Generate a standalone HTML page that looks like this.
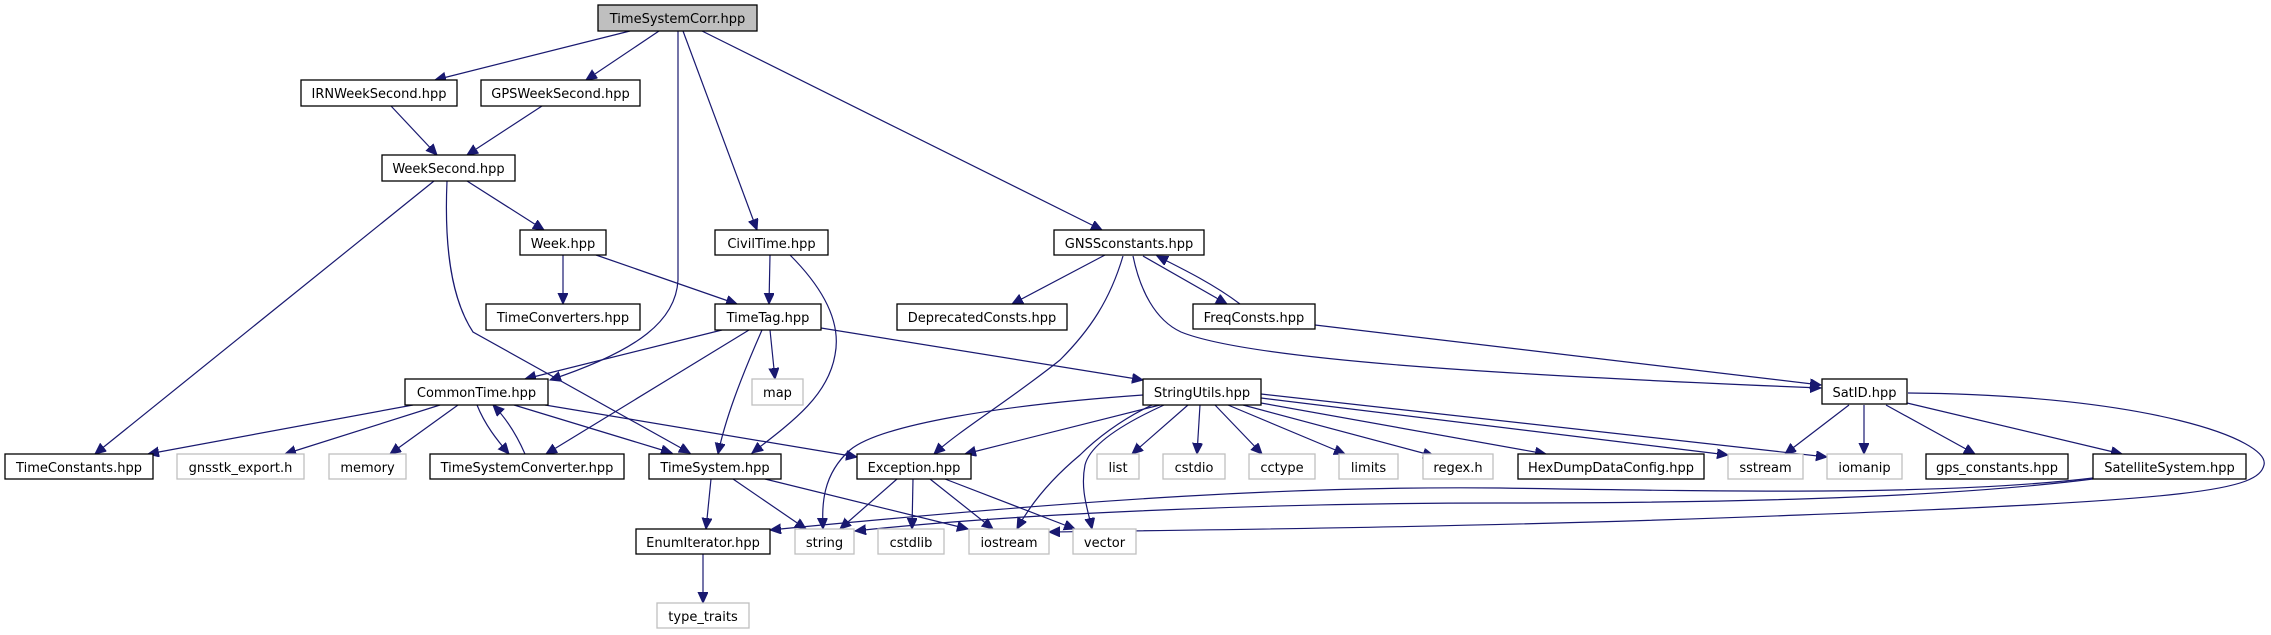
<!DOCTYPE html>
<html><head><meta charset="utf-8"><style>
html,body{margin:0;padding:0;background:#fff;}
svg{display:block;}
text{font-family:"DejaVu Sans","Liberation Sans",sans-serif;font-size:13px;fill:#000;text-anchor:middle;}
.n{fill:#fff;stroke:#000;stroke-width:1.3;}
.g{fill:#fff;stroke:#bfbfbf;stroke-width:1.3;}
.e{fill:none;stroke:#191970;stroke-width:1.2;}
</style></head><body>
<svg width="2271" height="635" viewBox="0 0 2271 635" xmlns="http://www.w3.org/2000/svg">
<defs>
<marker id="a" markerUnits="userSpaceOnUse" markerWidth="14" markerHeight="12" refX="11" refY="5" orient="auto">
<polygon points="0,0 11,5 0,10" fill="#191970" stroke="#191970"/>
</marker>
</defs>
<g marker-end="url(#a)">
<path class="e" d="M630,31 L435,80"/>
<path class="e" d="M659,31 L586,80"/>
<path class="e" d="M678,31 L678,280 C676,320 640,350 550,380"/>
<path class="e" d="M683,31 L757,230"/>
<path class="e" d="M702,31 L1102,230"/>
<path class="e" d="M391,106 L437,155"/>
<path class="e" d="M542,106 L467,155"/>
<path class="e" d="M434,181 L95,454"/>
<path class="e" d="M447,181 C444,250 452,300 473,332 L690,453"/>
<path class="e" d="M467,181 L544,230"/>
<path class="e" d="M563,255 L563,304"/>
<path class="e" d="M596,255 L737,304"/>
<path class="e" d="M770,255 L769,304"/>
<path class="e" d="M790,255 C820,285 842,320 835,355 C828,395 795,420 752,453"/>
<path class="e" d="M722,330 L525,379"/>
<path class="e" d="M749,330 L546,454"/>
<path class="e" d="M762,330 C740,380 725,420 718,454"/>
<path class="e" d="M770,330 L775,379"/>
<path class="e" d="M821,328 L1143,380"/>
<path class="e" d="M413,405 L148,454"/>
<path class="e" d="M440,405 L285,454"/>
<path class="e" d="M458,405 L390,454"/>
<path class="e" d="M477,405 C485,425 497,440 509,454"/>
<path class="e" d="M525,454 C518,438 508,420 493,405"/>
<path class="e" d="M514,405 L672,453"/>
<path class="e" d="M545,405 L857,457"/>
<path class="e" d="M711,479 L706,529"/>
<path class="e" d="M733,479 L806,529"/>
<path class="e" d="M765,479 L968,529"/>
<path class="e" d="M703,554 L703,603"/>
<path class="e" d="M1105,255 L1012,304"/>
<path class="e" d="M1123,256 C1110,300 1090,330 1060,360 C1010,400 960,430 934,454"/>
<path class="e" d="M1133,256 C1140,290 1155,320 1181,332 C1250,360 1500,375 1821,388"/>
<path class="e" d="M1143,256 L1227,304"/>
<path class="e" d="M1240,304 C1215,285 1185,270 1157,256"/>
<path class="e" d="M1315,325 L1821,385"/>
<path class="e" d="M1143,395 C1000,405 880,425 850,450 C822,475 822,505 823,529"/>
<path class="e" d="M1160,405 L965,454"/>
<path class="e" d="M1152,405 C1120,420 1095,440 1080,455 C1050,480 1030,505 1017,529"/>
<path class="e" d="M1164,405 C1120,425 1090,445 1085,465 C1080,490 1088,510 1092,529"/>
<path class="e" d="M1188,405 L1132,454"/>
<path class="e" d="M1200,405 L1197,454"/>
<path class="e" d="M1215,405 L1262,454"/>
<path class="e" d="M1228,405 L1345,454"/>
<path class="e" d="M1243,405 L1434,456"/>
<path class="e" d="M1261,403 L1546,454"/>
<path class="e" d="M1261,398 L1728,455"/>
<path class="e" d="M1261,394 L1827,457"/>
<path class="e" d="M897,479 L840,529"/>
<path class="e" d="M913,479 L912,529"/>
<path class="e" d="M930,479 L993,529"/>
<path class="e" d="M945,479 L1075,529"/>
<path class="e" d="M1849,405 L1785,454"/>
<path class="e" d="M1864,405 L1864,454"/>
<path class="e" d="M1886,405 L1975,454"/>
<path class="e" d="M1907,403 L2122,454"/>
<path class="e" d="M1908,393 C2150,395 2270,440 2264,465 C2258,490 2200,500 1800,515 C1500,527 1200,530 1049,532"/>
<path class="e" d="M2093,478 C1950,495 1750,492 1500,488 C1300,486 1100,498 770,530"/>
<path class="e" d="M2093,479 C1950,497 1750,503 1500,503 C1250,503 1000,515 855,531"/>
</g>
<rect x="598" y="5" width="159" height="26" fill="#bfbfbf" stroke="#000" stroke-width="1.3"/><text x="677.5" y="23">TimeSystemCorr.hpp</text>
<rect class="n" x="301" y="80" width="156" height="26"/><text x="379" y="98">IRNWeekSecond.hpp</text>
<rect class="n" x="481" y="80" width="159" height="26"/><text x="560.5" y="98">GPSWeekSecond.hpp</text>
<rect class="n" x="382" y="155" width="133" height="26"/><text x="448.5" y="173">WeekSecond.hpp</text>
<rect class="n" x="520" y="230" width="86" height="25"/><text x="563" y="248">Week.hpp</text>
<rect class="n" x="486" y="304" width="154" height="26"/><text x="563" y="322">TimeConverters.hpp</text>
<rect class="n" x="715" y="230" width="113" height="25"/><text x="771.5" y="248">CivilTime.hpp</text>
<rect class="n" x="715" y="304" width="106" height="26"/><text x="768" y="322">TimeTag.hpp</text>
<rect class="n" x="405" y="379" width="143" height="26"/><text x="476.5" y="397">CommonTime.hpp</text>
<rect class="n" x="5" y="454" width="148" height="25"/><text x="79" y="472">TimeConstants.hpp</text>
<rect class="g" x="177" y="454" width="127" height="25"/><text x="240.5" y="472">gnsstk_export.h</text>
<rect class="g" x="329" y="454" width="77" height="25"/><text x="367.5" y="472">memory</text>
<rect class="n" x="430" y="454" width="194" height="25"/><text x="527" y="472">TimeSystemConverter.hpp</text>
<rect class="n" x="649" y="454" width="132" height="25"/><text x="715" y="472">TimeSystem.hpp</text>
<rect class="n" x="636" y="529" width="134" height="25"/><text x="703" y="547">EnumIterator.hpp</text>
<rect class="g" x="657" y="603" width="92" height="25"/><text x="703" y="621">type_traits</text>
<rect class="n" x="1054" y="230" width="150" height="25"/><text x="1129" y="248">GNSSconstants.hpp</text>
<rect class="n" x="897" y="304" width="170" height="26"/><text x="982" y="322">DeprecatedConsts.hpp</text>
<rect class="n" x="1193" y="304" width="122" height="25"/><text x="1254" y="322">FreqConsts.hpp</text>
<rect class="g" x="752" y="379" width="51" height="26"/><text x="777.5" y="397">map</text>
<rect class="n" x="1143" y="379" width="118" height="26"/><text x="1202" y="397">StringUtils.hpp</text>
<rect class="n" x="857" y="454" width="114" height="25"/><text x="914" y="472">Exception.hpp</text>
<rect class="g" x="1097" y="454" width="42" height="25"/><text x="1118" y="472">list</text>
<rect class="g" x="1163" y="454" width="62" height="25"/><text x="1194" y="472">cstdio</text>
<rect class="g" x="1249" y="454" width="66" height="25"/><text x="1282" y="472">cctype</text>
<rect class="g" x="1339" y="454" width="59" height="25"/><text x="1368.5" y="472">limits</text>
<rect class="g" x="1423" y="454" width="70" height="25"/><text x="1458" y="472">regex.h</text>
<rect class="g" x="795" y="529" width="59" height="25"/><text x="824.5" y="547">string</text>
<rect class="g" x="878" y="529" width="66" height="25"/><text x="911" y="547">cstdlib</text>
<rect class="g" x="969" y="529" width="80" height="25"/><text x="1009" y="547">iostream</text>
<rect class="g" x="1073" y="529" width="63" height="25"/><text x="1104.5" y="547">vector</text>
<rect class="n" x="1822" y="379" width="85" height="25"/><text x="1864.5" y="397">SatID.hpp</text>
<rect class="n" x="1518" y="454" width="186" height="25"/><text x="1611" y="472">HexDumpDataConfig.hpp</text>
<rect class="g" x="1728" y="454" width="75" height="25"/><text x="1765.5" y="472">sstream</text>
<rect class="g" x="1827" y="454" width="75" height="25"/><text x="1864.5" y="472">iomanip</text>
<rect class="n" x="1926" y="454" width="142" height="25"/><text x="1997" y="472">gps_constants.hpp</text>
<rect class="n" x="2093" y="454" width="153" height="25"/><text x="2169.5" y="472">SatelliteSystem.hpp</text>
</svg>
</body></html>
